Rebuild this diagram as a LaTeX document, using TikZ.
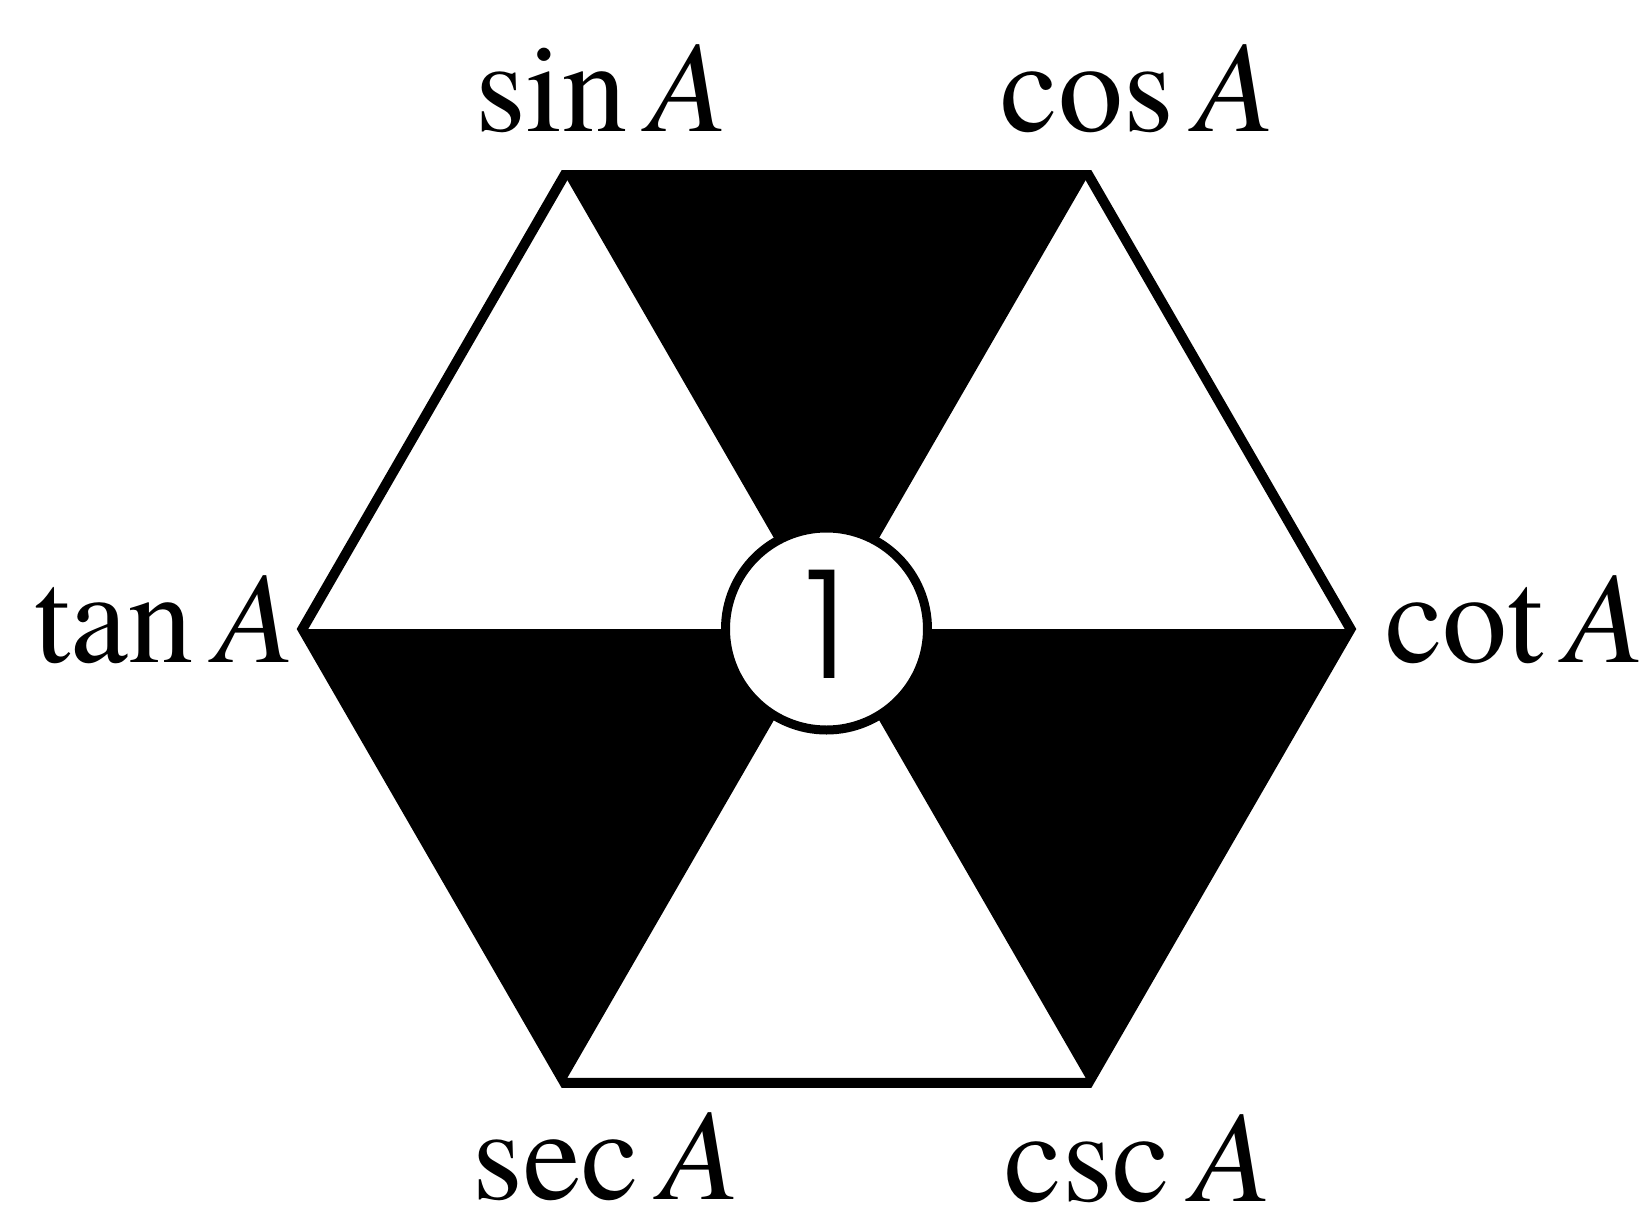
\documentclass[tikz,border=0pt]{standalone}
\usepackage{fontspec}
\setmainfont{TeX Gyre Termes}
\newfontfamily\onefont{Poppins Light}
\begin{document}
\begin{tikzpicture}[x=1cm,y=1cm,line join=miter,
  lab/.style={inner sep=0pt,font=\fontsize{37}{40}\selectfont},
  edge/.style={line width=0.10cm}]
\useasboundingbox (-8.265,-5.89) rectangle (8.165,6.29);
\coordinate (O) at (0,0);
\coordinate (TL) at (120:5.24);
\coordinate (TR) at (60:5.24);
\coordinate (R) at (0:5.24);
\coordinate (BR) at (-60:5.24);
\coordinate (BL) at (-120:5.24);
\coordinate (L) at (180:5.24);
% black sectors
\fill[black] (TL) -- (TR) -- (O) -- cycle;
\fill[black] (L) -- (BL) -- (O) -- cycle;
\fill[black] (R) -- (BR) -- (O) -- cycle;
% outline
\draw[edge] (TL) -- (TR) -- (R) -- (BR) -- (BL) -- (L) -- cycle;
% centre circle
\node[circle,draw,fill=white,line width=0.09cm,minimum size=2.02cm,inner sep=0pt] (one) at (O) {};
\node[anchor=base,inner sep=0pt,font=\onefont\fontsize{43}{46}\selectfont] (digit) at (0.0,-0.49) {1};
% labels
\node[lab,anchor=base] (sin) at (-2.245,4.97) {sin\,\textit{A}};
\node[lab,anchor=base] (cos) at (3.115,4.97) {cos\,\textit{A}};
\node[lab,anchor=base east] (tan) at (-5.31,-0.33) {tan\,\textit{A}};
\node[lab,anchor=base west] (cot) at (5.58,-0.33) {cot\,\textit{A}};
\node[lab,anchor=base] (sec) at (-2.20,-5.70) {sec\,\textit{A}};
\node[lab,anchor=base] (csc) at (3.115,-5.72) {csc\,\textit{A}};
\end{tikzpicture}
\end{document}
